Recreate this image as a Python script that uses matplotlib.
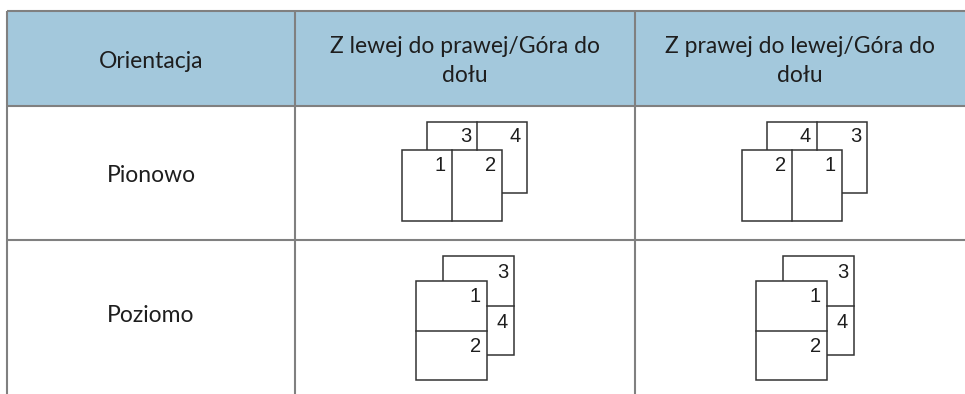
import matplotlib.pyplot as plt
from matplotlib.patches import Rectangle

# table contents
headers = ["Orientacja", "Z lewej do prawej/Góra do\ndołu", "Z prawej do lewej/Góra do\ndołu"]
row_labels = ["Pionowo", "Poziomo"]
# page numbers: front page (first, second), back page (first, second)
portrait_pages = [[1, 2, 3, 4], [2, 1, 4, 3]]
landscape_pages = [[1, 2, 3, 4], [1, 2, 3, 4]]

# layout in pixels
W, H = 965, 394
col_x = [7, 295, 635, W]
row_y = [11, 106, 240, H]
header_bg = "#a3c8dc"
grid_c = "#808080"
ink = "#333333"

fig = plt.figure(figsize=(W / 100, H / 100), dpi=100)
ax = fig.add_axes([0, 0, 1, 1])
ax.set_xlim(0, W)
ax.set_ylim(H, 0)
ax.axis("off")

ax.add_patch(Rectangle((col_x[0], row_y[0]), W - col_x[0], row_y[1] - row_y[0],
                       facecolor=header_bg, edgecolor="none"))
for y in row_y[:3]:
    ax.plot([col_x[0], W], [y, y], color=grid_c, lw=1.5, solid_capstyle="butt")
for x in col_x[:3]:
    ax.plot([x, x], [row_y[0], H], color=grid_c, lw=1.5, solid_capstyle="butt")

font = "Lato"
for i, h in enumerate(headers):
    cx = (col_x[i] + col_x[i + 1]) / 2
    ax.text(cx, 61, h, ha="center", va="center", fontsize=16.5, family=font,
            color="#1e1e1e", linespacing=1.45)
label_y = [175, 316]
for y, lab in zip(label_y, row_labels):
    ax.text(151, y, lab, ha="center", va="center", fontsize=16.5, family=font,
            color="#1e1e1e")


def page(x, y, w, h):
    ax.add_patch(Rectangle((x, y), w, h, facecolor="white", edgecolor=ink, lw=1.1))


def num(x, y, n):
    ax.text(x, y, str(n), ha="right", va="center", fontsize=14.5,
            family="Liberation Sans", color="#1e1e1e")


# portrait diagrams
for k, nums in enumerate(portrait_pages):
    ox = 402 + 340 * k
    # back sheet
    page(ox + 25, 122, 100, 71)
    ax.plot([ox + 75, ox + 75], [122, 150], color=ink, lw=1.1)
    num(ox + 69, 137, nums[2])
    num(ox + 119, 137, nums[3])
    # front sheet
    page(ox, 150, 100, 71)
    ax.plot([ox + 50, ox + 50], [150, 221], color=ink, lw=1.1)
    num(ox + 44, 165, nums[0])
    num(ox + 94, 165, nums[1])

# landscape diagrams
for k, nums in enumerate(landscape_pages):
    ox = 416 + 340 * k
    page(ox + 27, 256, 71, 99)
    ax.plot([ox + 71, ox + 98], [305.5, 305.5], color=ink, lw=1.1)
    num(ox + 92, 272, nums[2])
    num(ox + 92, 322, nums[3])
    page(ox, 281, 71, 99)
    ax.plot([ox, ox + 71], [330.5, 330.5], color=ink, lw=1.1)
    num(ox + 65, 297, nums[0])
    num(ox + 65, 347, nums[1])

fig.savefig("out.png", dpi=100)
